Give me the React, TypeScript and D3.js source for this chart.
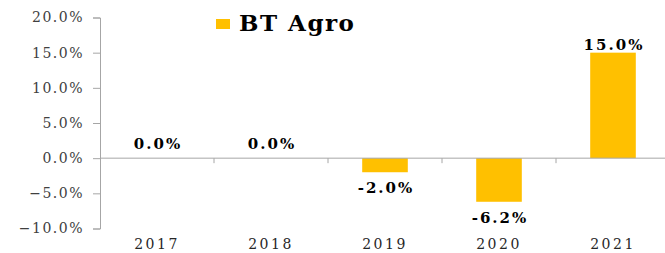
import React, { useEffect, useRef } from "react";
import * as d3 from "d3";

const years = ["2017", "2018", "2019", "2020", "2021"];
const growth = [0.0, 0.0, -2.0, -6.2, 15.0];
const yTicks = [-10, -5, 0, 5, 10, 15, 20];
const seriesName = "BT Agro";

const W = 665;
const H = 253;
const FONT = "'DejaVu Serif', Georgia, serif";
const GOLD = "#FFC000";

export default function App() {
  const ref = useRef<SVGSVGElement | null>(null);

  useEffect(() => {
    const svg = d3.select(ref.current);
    svg.selectAll("*").remove();

    const left = 100;
    const right = 670;
    const y = d3.scaleLinear().domain([-10, 20]).range([228.5, 17.5]);
    const x = d3.scaleBand().domain(years).range([left, right]).paddingInner(0.6).paddingOuter(0.3);
    const xb = d3.scaleBand().domain(years).range([left, right]);

    // y axis
    const yAxis = svg.append("g")
      .attr("transform", `translate(${left},0)`)
      .call(d3.axisLeft(y).tickValues(yTicks).tickSize(7).tickPadding(9)
        .tickFormat((d) => d3.format(".1f")(d as number) + "%"));
    yAxis.select(".domain").attr("stroke", "#a6a6a6");
    yAxis.selectAll(".tick line").attr("stroke", "#a6a6a6");
    yAxis.selectAll(".tick text")
      .attr("fill", "#404040")
      .style("font-family", FONT)
      .style("font-size", "14px")
      .style("letter-spacing", "1.5px");

    // bars
    svg.append("g").selectAll("rect")
      .data(growth)
      .join("rect")
      .attr("x", (_, i) => x(years[i])!)
      .attr("width", x.bandwidth())
      .attr("y", (d) => y(Math.max(0, d)))
      .attr("height", (d) => Math.abs(y(d) - y(0)))
      .attr("fill", GOLD);

    // zero line + category ticks
    svg.append("line")
      .attr("x1", left).attr("x2", right)
      .attr("y1", y(0)).attr("y2", y(0))
      .attr("stroke", "#a6a6a6");
    svg.append("g").selectAll("line")
      .data(years.slice(1))
      .join("line")
      .attr("x1", (d) => xb(d)!).attr("x2", (d) => xb(d)!)
      .attr("y1", y(0)).attr("y2", y(0) + 5)
      .attr("stroke", "#a6a6a6");

    // value labels
    svg.append("g").selectAll("text")
      .data(growth)
      .join("text")
      .attr("x", (_, i) => x(years[i])! + x.bandwidth() / 2 + 1)
      .attr("y", (d) => (d > 0 ? y(d) - 3 : d < 0 ? y(d) + 21 : y(0) - 9))
      .attr("text-anchor", "middle")
      .attr("fill", "#000")
      .style("font-family", FONT)
      .style("font-size", "15px")
      .style("font-weight", "bold")
      .style("letter-spacing", "2px")
      .text((d) => d.toFixed(1) + "%");

    // year labels
    svg.append("g").selectAll("text")
      .data(years)
      .join("text")
      .attr("x", (d) => xb(d)! + xb.bandwidth() / 2)
      .attr("y", 249)
      .attr("text-anchor", "middle")
      .attr("fill", "#262626")
      .style("font-family", FONT)
      .style("font-size", "14px")
      .style("letter-spacing", "2.5px")
      .text((d) => d);

    // legend
    const lg = svg.append("g").attr("transform", "translate(216,19)");
    lg.append("rect").attr("width", 14).attr("height", 10).attr("fill", GOLD);
    lg.append("text")
      .attr("x", 23).attr("y", 12)
      .attr("fill", "#000")
      .style("font-family", FONT)
      .style("font-size", "23px")
      .style("font-weight", "bold")
      .style("letter-spacing", "1.5px")
      .text(seriesName);
  }, []);

  return (
    <svg
      ref={ref}
      width={W}
      height={H}
      style={{ position: "absolute", left: 0, top: 0, background: "#fff" }}
    />
  );
}
